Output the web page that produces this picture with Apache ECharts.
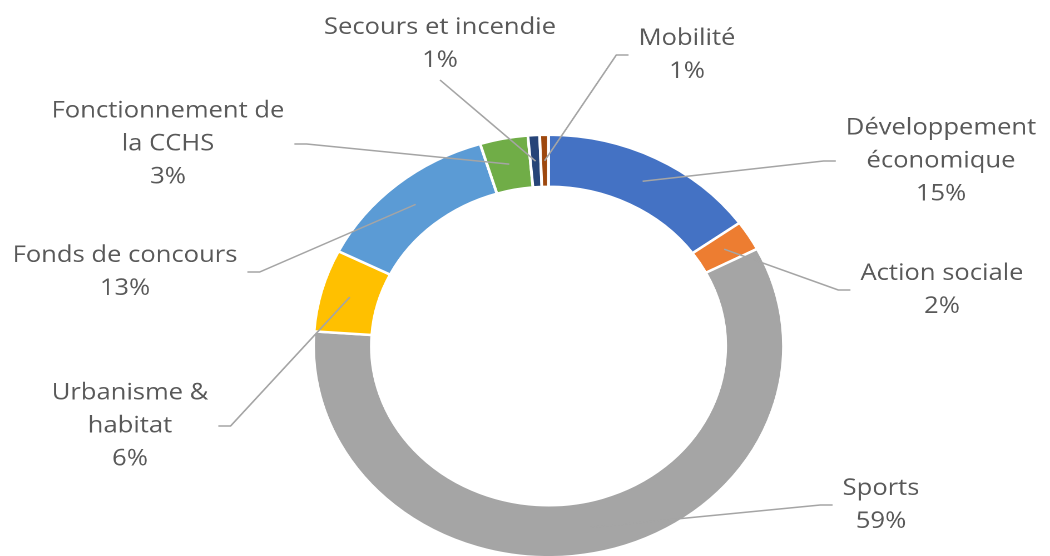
<!DOCTYPE html>
<html>
<head>
<meta charset="utf-8">
<script src="https://cdn.jsdelivr.net/npm/echarts@6/dist/echarts.min.js"></script>
<style>
html, body { margin: 0; padding: 0; background: #fff; overflow: hidden; }
#chart { width: 944px; height: 556px; transform: scaleX(1.1123); transform-origin: 0 0; }
</style>
</head>
<body>
<div id="chart"></div>
<script>
// ---- data ----
const categories = ['Développement\néconomique', 'Action sociale', 'Sports', 'Urbanisme &\nhabitat',
  'Fonds de concours', 'Fonctionnement de\nla CCHS', 'Secours et incendie', 'Mobilité'];
const values = [15.1, 2.3, 58.7, 6.3, 12.9, 3.3, 0.8, 0.6];
const colors = ['#4472C4', '#ED7D31', '#A5A5A5', '#FFC000', '#5B9BD5', '#70AD47', '#264478', '#9E480E'];

// ---- layout (reference is horizontally stretched; chart is drawn then scaled in x) ----
const S = 1.1123;
const CX = 548.5 / S, CY = 346;
const R_OUT = 210, R_IN = 160.5, BW = 2.5;
const R_MID = (R_OUT + R_IN) / 2;
// label centre positions (in the stretched picture) and side the leader enters from
const labelAnchors = [
  [941, 161, 'L'], [942, 290, 'L'], [881, 505, 'L'], [130, 426, 'R'],
  [125, 272, 'R'], [168, 144, 'R'], [440, 44, 'B'], [687, 55, 'L']
];

const total = values.reduce((a, b) => a + b, 0);
const midAngles = [];
let cum = 0;
values.forEach(v => { midAngles.push((90 - (cum + v / 2) / total * 360) * Math.PI / 180); cum += v; });

const seriesData = categories.map((c, i) => ({ name: c, value: values[i] }));
const common = {
  type: 'pie',
  center: [CX, CY],
  radius: [R_IN - BW / 2, R_OUT + BW / 2],
  startAngle: 90,
  clockwise: true,
  avoidLabelOverlap: false,
  percentPrecision: 0,
  emphasis: { disabled: true },
  data: seriesData
};

const chart = echarts.init(document.getElementById('chart'), null, { devicePixelRatio: 2 });
chart.setOption({
  animation: false,
  backgroundColor: '#ffffff',
  color: colors,
  series: [
    Object.assign({}, common, {
      z: 2,
      itemStyle: { borderColor: '#ffffff', borderWidth: BW },
      label: { show: false },
      labelLine: { show: false }
    }),
    Object.assign({}, common, {
      z: 3,
      silent: true,
      itemStyle: { color: 'rgba(0,0,0,0)', borderWidth: 0 },
      label: {
        show: true,
        position: 'outside',
        formatter: '{b}\n{d}%',
        fontFamily: 'Open Sans',
        fontSize: 23,
        lineHeight: 33,
        color: '#595959',
        align: 'center'
      },
      labelLine: { show: true, lineStyle: { color: '#A5A5A5', width: 1.5 } },
      labelLayout: function (p) {
        const i = p.dataIndex;
        const a = labelAnchors[i];
        const x = a[0] / S, y = a[1];
        const w = p.labelRect.width, h = p.labelRect.height;
        const th = midAngles[i];
        const st = [CX + R_MID * Math.cos(th), CY - R_MID * Math.sin(th)];
        let pts;
        if (a[2] === 'L') {
          const ex = x - w / 2 - 9;
          pts = [st, [ex - 11, y], [ex, y]];
        } else if (a[2] === 'R') {
          const ex = x + w / 2 + 9;
          pts = [st, [ex + 11, y], [ex, y]];
        } else {
          const e = [x, y + h / 2 + 3];
          pts = [st, [(st[0] + e[0]) / 2, (st[1] + e[1]) / 2], e];
        }
        return { x: x, y: y, align: 'center', verticalAlign: 'middle', labelLinePoints: pts };
      }
    })
  ]
});
</script>
</body>
</html>
